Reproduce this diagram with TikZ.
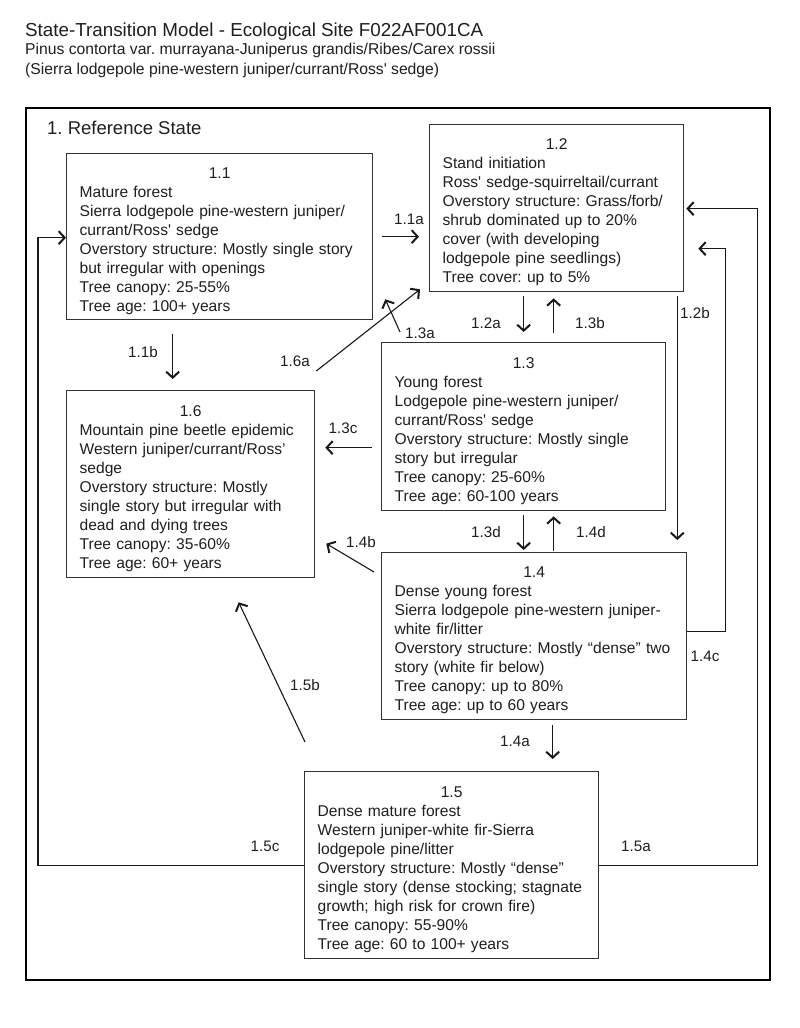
\documentclass[tikz,border=0pt]{standalone}
\usepackage{fontspec}
\setmainfont{Liberation Sans}
\usetikzlibrary{arrows.meta,calc}
\newcommand\sq{\textquotesingle}
\newcommand\boxnum[1]{\makebox[\hsize]{\rule{0pt}{19pt}#1}}
\begin{document}
\frenchspacing
\begin{tikzpicture}[x=1pt,y=-1pt,
  box/.style={draw=black!80,line width=1.3pt,inner xsep=13pt,inner ysep=0pt,align=left,anchor=north west,font=\fontsize{15.6}{19}\selectfont,text=black!88},
  lbl/.style={font=\fontsize{15.2}{17}\selectfont,text=black!88,inner sep=0pt},
  ttl/.style={anchor=base west,inner sep=0pt,text=black!88},
  arr/.style={draw=black!90,line width=1.1pt,-{Straight Barb[length=6pt,width=13pt,line width=2pt]}},
  ]
\useasboundingbox (0,0) rectangle (800,1028);
\fill[white] (0,0) rectangle (800,1028);

% titles
\node[ttl,font=\fontsize{18.8}{22}\selectfont] (title) at (25,36) {State-Transition Model - Ecological Site F022AF001CA};
\node[ttl,font=\fontsize{15.7}{18}\selectfont] (sub1) at (25,54) {Pinus contorta var. murrayana-Juniperus grandis/Ribes/Carex rossii};
\node[ttl,font=\fontsize{15.7}{18}\selectfont] (sub2) at (25,74) {(Sierra lodgepole pine-western juniper/currant/Ross\sq{} sedge)};

% outer frame
\node[draw=black,line width=2pt,minimum width=744pt,minimum height=872pt,anchor=north west,inner sep=0pt] (frame) at (25,107) {};
\node[ttl,font=\fontsize{18.5}{22}\selectfont] (refstate) at (47,134) {1. Reference State};

% boxes
\node[box,text width=280pt,minimum height=166pt] (b11) at (66,153) {\boxnum{1.1}\\
\mbox{Mature forest}\\
\mbox{Sierra lodgepole pine-western juniper/}\\
\mbox{currant/Ross\sq{} sedge}\\
\mbox{Overstory structure: Mostly single story}\\
\mbox{but irregular with openings}\\
\mbox{Tree canopy: 25-55\%}\\
\mbox{Tree age: 100+ years}};

\node[box,text width=228pt,minimum height=167pt] (b12) at (429,124) {\boxnum{1.2}\\
\mbox{Stand initiation}\\
\mbox{Ross\sq{} sedge-squirreltail/currant}\\
\mbox{Overstory structure: Grass/forb/}\\
\mbox{shrub dominated up to 20\%}\\
\mbox{cover (with developing}\\
\mbox{lodgepole pine seedlings)}\\
\mbox{Tree cover: up to 5\%}};

\node[box,text width=258pt,minimum height=168pt] (b13) at (381,342) {\boxnum{1.3}\\
\mbox{Young forest}\\
\mbox{Lodgepole pine-western juniper/}\\
\mbox{currant/Ross\sq{} sedge}\\
\mbox{Overstory structure: Mostly single}\\
\mbox{story but irregular}\\
\mbox{Tree canopy: 25-60\%}\\
\mbox{Tree age: 60-100 years}};

\node[box,text width=222pt,minimum height=187pt] (b16) at (66,390) {\boxnum{1.6}\\
\mbox{Mountain pine beetle epidemic}\\
\mbox{Western juniper/currant/Ross’}\\
\mbox{sedge}\\
\mbox{Overstory structure: Mostly}\\
\mbox{single story but irregular with}\\
\mbox{dead and dying trees}\\
\mbox{Tree canopy: 35-60\%}\\
\mbox{Tree age: 60+ years}};

\node[box,text width=279pt,minimum height=167pt] (b14) at (381,552) {\boxnum{1.4}\\
\mbox{Dense young forest}\\
\mbox{Sierra lodgepole pine-western juniper-}\\
\mbox{white fir/litter}\\
\mbox{Overstory structure: Mostly “dense” two}\\
\mbox{story (white fir below)}\\
\mbox{Tree canopy: up to 80\%}\\
\mbox{Tree age: up to 60 years}};

\node[box,text width=268pt,minimum height=187pt] (b15) at (304,771) {\boxnum{1.5}\\
\mbox{Dense mature forest}\\
\mbox{Western juniper-white fir-Sierra}\\
\mbox{lodgepole pine/litter}\\
\mbox{Overstory structure: Mostly “dense”}\\
\mbox{single story (dense stocking; stagnate}\\
\mbox{growth; high risk for crown fire)}\\
\mbox{Tree canopy: 55-90\%}\\
\mbox{Tree age: 60 to 100+ years}};

% connectors
\draw[arr] ([xshift=9pt]b11.east) -- ($(b12.west |- b11.east)+(-10,0)$);
\draw[arr] ($(b11.south)+(-47,14)$) -- ($(b16.north)+(-18,-11)$);
\draw[arr] ($(b13.north |- b12.south)+(0,4)$) -- ($(b13.north)+(0,-10)$);
\draw[arr] ($(b13.north)+(30,-9)$) -- ($(b13.north |- b12.south)+(30,6)$);
\draw[arr] ($(b12.south east)+(-7,4)$) -- ($(b14.north east)+(-10,-12)$);
\draw[arr] ($(b13.west)+(-9,21)$) -- ($(b16.east)+(10,-36.5)$);
\draw[arr] ($(b13.south)+(0,4)$) -- ($(b14.north -| b13.south)+(0,-2)$);
\draw[arr] ($(b14.north -| b13.south)+(30,-1)$) -- ($(b13.south)+(30,5)$);
\draw[arr] ($(b14.north west)+(-7,20)$) -- ($(b16.east)+(11,59.5)$);
\draw[arr] ($(b14.south)+(18.5,5)$) -- ($(b15.north)+(101,-12)$);
\draw[arr] ($(b14.east)+(0,-4.5)$) -| ($(b12.east)+(41,40.5)$) -- ($(b12.east)+(14,40.5)$);
\draw[arr] (b15.east) -| ($(b12.east)+(73,0.5)$) -- ($(b12.east)+(2,0.5)$);
\draw[arr] (b15.west) -| ($(b11.west)+(-28,1)$) -- ($(b11.west)+(0,1)$);
\draw[arr] ($(b15.north west)+(1,-29)$) -- ($(b16.south)+(48,24)$);
\draw[arr] ($(b16.north east)+(1,-19)$) -- ($(b12.south west)+(-9,-3)$);
\draw[arr] ($(b13.north west)+(19,-10)$) -- ($(b11.south east)+(12,-21)$);

% connector labels
\node[lbl] (l11a) at (409,219) {1.1a};
\node[lbl] (l11b) at (143,352) {1.1b};
\node[lbl] (l12a) at (486,323) {1.2a};
\node[lbl] (l13b) at (590,323) {1.3b};
\node[lbl] (l12b) at (695,313) {1.2b};
\node[lbl] (l13a) at (420,333) {1.3a};
\node[lbl] (l16a) at (295,361) {1.6a};
\node[lbl] (l13c) at (343,428) {1.3c};
\node[lbl] (l13d) at (486,532) {1.3d};
\node[lbl] (l14d) at (591,532) {1.4d};
\node[lbl] (l14b) at (361,542) {1.4b};
\node[lbl] (l14c) at (705,656) {1.4c};
\node[lbl] (l14a) at (515,741) {1.4a};
\node[lbl] (l15b) at (305,685) {1.5b};
\node[lbl] (l15c) at (265,846) {1.5c};
\node[lbl] (l15a) at (636,846) {1.5a};
\end{tikzpicture}
\end{document}
